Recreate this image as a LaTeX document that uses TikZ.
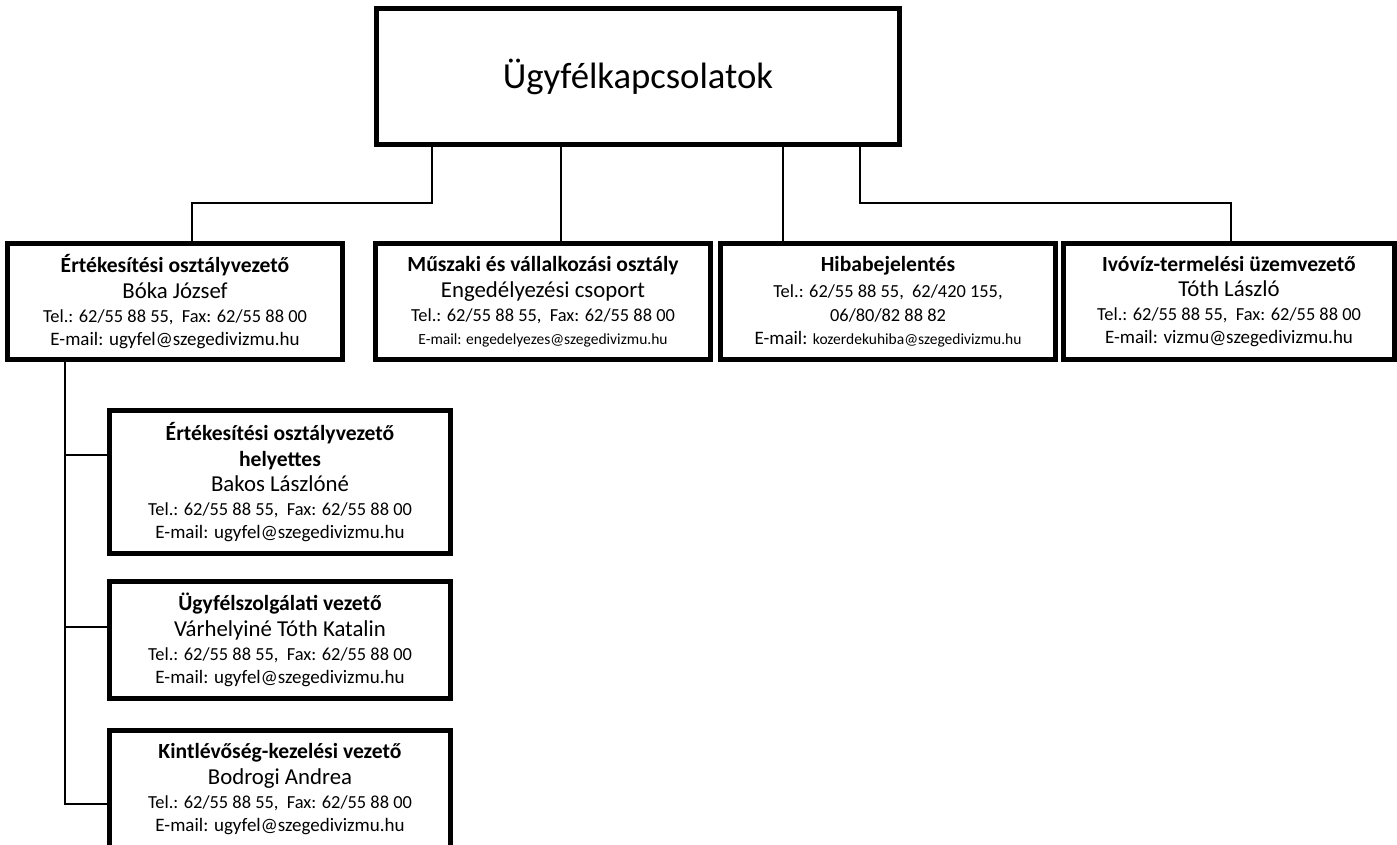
\documentclass[tikz,border=0pt]{standalone}
\usepackage{fontspec}
\setmainfont{Carlito}
\newcommand{\fej}[1]{{\fontsize{21.6}{24.5}\selectfont\bfseries #1}}
\newcommand{\nev}[1]{{\fontsize{22.8}{24.5}\selectfont #1}}
\newcommand{\mail}[1]{{\fontsize{19}{22.4}\selectfont #1}}
\newcommand{\kis}[1]{{\fontsize{15.5}{18}\selectfont #1}}
\begin{document}
\begin{tikzpicture}[x=1pt,y=-1pt,
    box/.style={draw,line width=5pt,align=center,inner sep=0pt,
      font=\fontsize{18.4}{22.4}\selectfont},
    felso/.style={box,minimum width=335pt,minimum height=116pt},
    also/.style={box,minimum width=341pt},
    conn/.style={line width=2.5pt}]
  \useasboundingbox (0,0) rectangle (1397,845);
  \node[box,minimum width=523pt,minimum height=136pt,
    font=\fontsize{36.7}{44}\selectfont] (top) at (638,76.5) {Ügyfélkapcsolatok};

  \node[felso] (ert) at (175,301.5)
    {\fej{Értékesítési osztályvezető}\\[3.5pt] \nev{Bóka József}\\[1.5pt]
     Tel.: 62/55 88 55,\ \ Fax: 62/55 88 00\\[0.5pt] \mail{E-mail: ugyfel@szegedivizmu.hu}};
  \node[felso] (musz) at (543,301.5)
    {\fej{Műszaki és vállalkozási osztály}\\[3.5pt] \nev{Engedélyezési csoport}\\[1.5pt]
     Tel.: 62/55 88 55,\ \ Fax: 62/55 88 00\\[0.5pt] \kis{E-mail: engedelyezes@szegedivizmu.hu}};
  \node[felso] (hiba) at (888,301.5)
    {\fej{Hibabejelentés}\\[3.5pt] Tel.: 62/55 88 55,\ \ 62/420 155,\\[1.5pt] 06/80/82 88 82\\[0.5pt]
     \mail{E-mail:} \kis{kozerdekuhiba@szegedivizmu.hu}};
  \node[felso,minimum width=331pt] (ivo) at (1229,301.5)
    {\fej{Ivóvíz-termelési üzemvezető}\\[3.5pt] \nev{Tóth László}\\[1.5pt]
     Tel.: 62/55 88 55,\ \ Fax: 62/55 88 00\\[0.5pt] \mail{E-mail: vizmu@szegedivizmu.hu}};

  \node[also,minimum height=143pt] (helyt) at (280,482)
    {\fej{Értékesítési osztályvezető}\\[3.5pt] \fej{helyettes}\\[3.5pt] \nev{Bakos Lászlóné}\\[1.5pt]
     Tel.: 62/55 88 55,\ \ Fax: 62/55 88 00\\[0.5pt] \mail{E-mail: ugyfel@szegedivizmu.hu}};
  \node[also,minimum height=117pt] (ugyf) at (280,640)
    {\fej{Ügyfélszolgálati vezető}\\[3.5pt] \nev{Várhelyiné Tóth Katalin}\\[1.5pt]
     Tel.: 62/55 88 55,\ \ Fax: 62/55 88 00\\[0.5pt] \mail{E-mail: ugyfel@szegedivizmu.hu}};
  \node[also,minimum height=117pt] (kint) at (280,789)
    {\fej{Kintlévőség-kezelési vezető}\\[3.5pt] \nev{Bodrogi Andrea}\\[1.5pt]
     Tel.: 62/55 88 55,\ \ Fax: 62/55 88 00\\[0.5pt] \mail{E-mail: ugyfel@szegedivizmu.hu}};

  \draw[conn] ([xshift=-206pt]top.south) |- ([xshift=17pt,yshift=38pt]ert.north)
    -- ([xshift=17pt]ert.north);
  \draw[conn] ([xshift=-77pt]top.south) -- ([xshift=-77pt]top.south |- musz.north);
  \draw[conn] ([xshift=145pt]top.south) -- ([xshift=145pt]top.south |- hiba.north);
  \draw[conn] ([xshift=222pt]top.south) |- ([xshift=2pt,yshift=38pt]ivo.north)
    -- ([xshift=2pt]ivo.north);

  \coordinate (trunk) at ([xshift=-110pt]ert.south);
  \draw[conn] (trunk) |- ([yshift=-15pt]kint.west);
  \draw[conn] ([yshift=27pt]helyt.west) -- ([yshift=27pt]helyt.west -| trunk);
  \draw[conn] ([yshift=13pt]ugyf.west) -- ([yshift=13pt]ugyf.west -| trunk);
\end{tikzpicture}
\end{document}
